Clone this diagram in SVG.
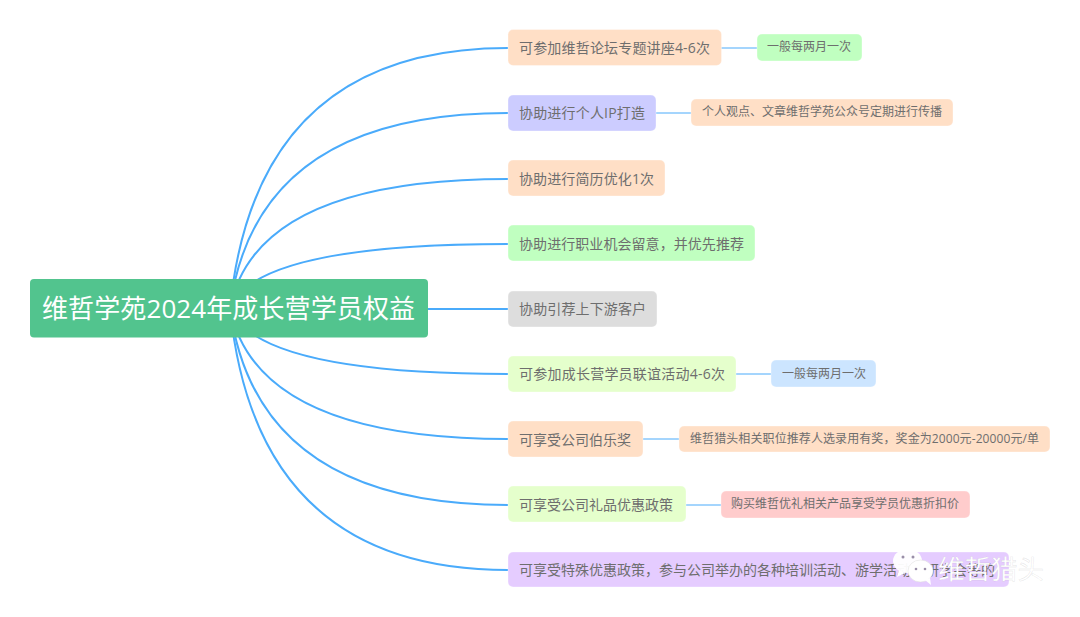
<svg xmlns="http://www.w3.org/2000/svg" width="1080" height="617" viewBox="0 0 1080 617">
<style>
text{font-family:"Open Sans","Noto Sans CJK SC","Noto Sans",sans-serif;dominant-baseline:central}
.n text{font-size:14px;fill:#6e6e6e}
.s text{font-size:12px;fill:#6e6e6e}
.n rect,.s rect{stroke:#fff;stroke-opacity:.35;stroke-width:1}
.m{fill:none;stroke:#4aabfb;stroke-width:2}
.t{fill:none;stroke:#4aabfb;stroke-width:1}
.peach{fill:#ffdfc6}.violet{fill:#ccccff}.green{fill:#c0ffc0}.grey{fill:#dddddd}.lime{fill:#e5ffcc}.blue{fill:#cce5ff}.pink{fill:#ffcccc}.lilac{fill:#e5ccff}
</style>
<rect width="1080" height="617" fill="#fff"/>
<g id="connectors">
<path class="m" d="M230 308Q256 48 508 48"/>
<path class="m" d="M230 308Q256 113 508 113"/>
<path class="m" d="M230 308Q256 179 508 179"/>
<path class="m" d="M230 308Q256 244 508 244"/>
<path class="m" d="M428 309H508"/>
<path class="m" d="M230 308Q256 374 508 374"/>
<path class="m" d="M230 308Q256 439 508 439"/>
<path class="m" d="M230 308Q256 505 508 505"/>
<path class="m" d="M230 308Q256 570 508 570"/>
<path class="t" d="M721 48H757"/>
<path class="t" d="M656 113H691"/>
<path class="t" d="M736 374H771"/>
<path class="t" d="M643 439H679"/>
<path class="t" d="M686 505H721"/>
</g>
<g id="root"><rect x="30" y="279" width="398" height="58.500" rx="4" fill="#52c48e"/><text x="42" y="308" font-size="26" fill="#fff" textLength="373">维哲学苑2024年成长营学员权益</text></g>
<g id="n1" class="n"><rect class="peach" x="508" y="29.500" width="213.500" height="36" rx="5"/><text x="519" y="47" textLength="191">可参加维哲论坛专题讲座4-6次</text></g>
<g id="n1s" class="s"><rect class="green" x="757" y="34" width="105" height="27" rx="5"/><text x="767" y="46">一般每两月一次</text></g>
<g id="n2" class="n"><rect class="violet" x="508" y="95" width="148" height="36" rx="5"/><text x="519" y="112.500" textLength="126">协助进行个人IP打造</text></g>
<g id="n2s" class="s"><rect class="peach" x="691" y="99" width="262" height="27" rx="5"/><text x="702" y="111">个人观点、文章维哲学苑公众号定期进行传播</text></g>
<g id="n3" class="n"><rect class="peach" x="508" y="160" width="157" height="36" rx="5"/><text x="519" y="178" textLength="135">协助进行简历优化1次</text></g>
<g id="n4" class="n"><rect class="green" x="508" y="225" width="247" height="36" rx="5"/><text x="519" y="243" textLength="225">协助进行职业机会留意，并优先推荐</text></g>
<g id="n5" class="n"><rect class="grey" x="508" y="291" width="149" height="36" rx="5"/><text x="519" y="308.500" textLength="127">协助引荐上下游客户</text></g>
<g id="n6" class="n"><rect class="lime" x="508" y="356" width="228" height="36" rx="5"/><text x="519" y="373.500" textLength="206">可参加成长营学员联谊活动4-6次</text></g>
<g id="n6s" class="s"><rect class="blue" x="771" y="360" width="105" height="27" rx="5"/><text x="782" y="373">一般每两月一次</text></g>
<g id="n7" class="n"><rect class="peach" x="508" y="421" width="135" height="36" rx="5"/><text x="519" y="439">可享受公司伯乐奖</text></g>
<g id="n7s" class="s"><rect class="peach" x="679" y="426" width="371" height="26" rx="5"/><text x="690" y="438" textLength="349">维哲猎头相关职位推荐人选录用有奖，奖金为2000元-20000元/单</text></g>
<g id="n8" class="n"><rect class="lime" x="508" y="486" width="178" height="36" rx="5"/><text x="519" y="504">可享受公司礼品优惠政策</text></g>
<g id="n8s" class="s"><rect class="pink" x="721" y="491" width="249" height="27" rx="5"/><text x="731" y="503.500">购买维哲优礼相关产品享受学员优惠折扣价</text></g>
<g id="n9" class="n"><rect class="lilac" x="508" y="552" width="501" height="35" rx="5"/><text x="519" y="569">可享受特殊优惠政策，参与公司举办的各种培训活动、游学活动、研学会等的</text></g>
<g id="watermark">
<ellipse cx="907.500" cy="561" rx="14.500" ry="12" fill="#fff" fill-opacity=".95"/>
<path d="M899 570l-2 7 8-4z" fill="#fff"/>
<ellipse cx="920.500" cy="571" rx="12.500" ry="11" fill="#fff" stroke="#ddd" stroke-width=".5"/>
<path d="M925 580l6 5-1-7z" fill="#fff"/>
<circle cx="903" cy="557" r="1.500" fill="#9a8fa8"/><circle cx="913" cy="557" r="1.500" fill="#9a8fa8"/>
<circle cx="916" cy="569" r="1.300" fill="#9a8fa8"/><circle cx="925" cy="569" r="1.300" fill="#9a8fa8"/>
<text x="938" y="569" font-size="26.500" fill="#fff" stroke="#888" stroke-opacity=".25" stroke-width=".4">维哲猎头</text>
</g>
</svg>
